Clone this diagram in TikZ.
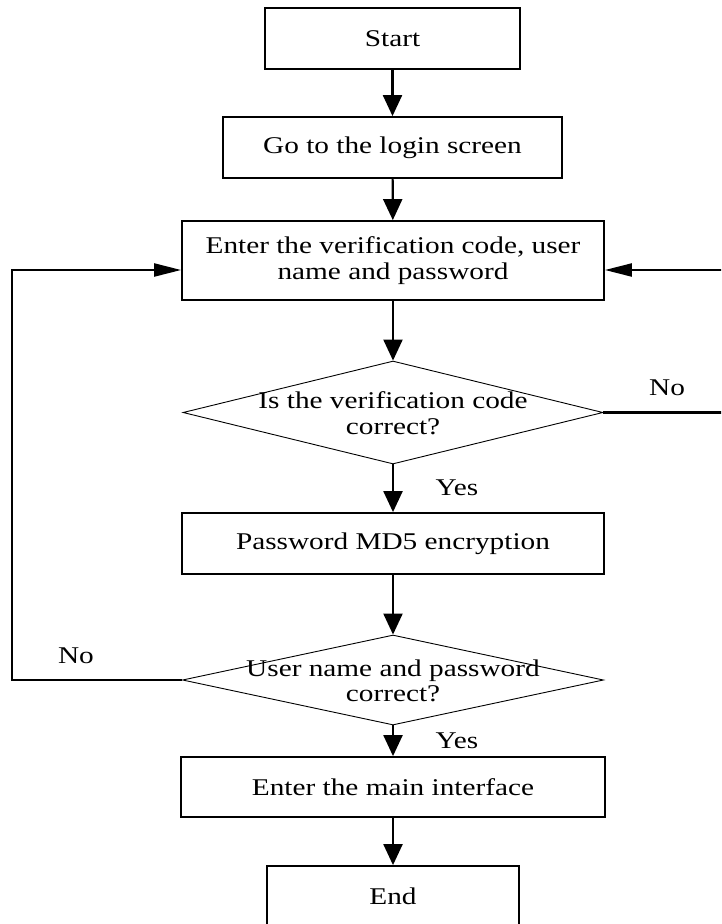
\documentclass[tikz,border=0pt]{standalone}
\usepackage{fontspec}
\setmainfont{Liberation Serif}[FakeStretch=1.22]
\usetikzlibrary{arrows.meta,shapes.geometric}

\tikzset{
  txt/.style={font=\fontsize{24}{25.5}\selectfont, align=center, inner sep=0pt},
  procbox/.style={draw, line width=1.8pt, rectangle, inner sep=0pt, txt},
  decision/.style={draw, line width=0.9pt, diamond, inner sep=0pt},
  varr/.style={line width=2.2pt, -{Triangle[length=21pt,width=19pt]}},
  harr/.style={line width=2.2pt, -{Triangle[length=27pt,width=13pt]}},
  branch/.style={txt, anchor=base}
}

\begin{document}
\begin{tikzpicture}[x=1pt,y=-1pt]
\useasboundingbox (0,0) rectangle (721,924);
\clip (0,0) rectangle (721,924);

% process boxes
\node[procbox, minimum width=255pt, minimum height=61pt] (start) at (392.5,38.5) {Start};
\node[procbox, minimum width=339pt, minimum height=61pt] (login) at (392.5,147.5) {Go to the login screen};
\node[procbox, minimum width=422pt, minimum height=79pt] (enter) at (393,260.5) {Enter the verification code, user\\name and password};
\node[procbox, minimum width=422pt, minimum height=61pt] (md5) at (393,543.5) {Password MD5 encryption};
\node[procbox, minimum width=424pt, minimum height=60pt] (main) at (393,787) {Enter the main interface};
\node[procbox, minimum width=252pt, minimum height=60pt] (end) at (393,896) {End};

% decisions
\node[decision, minimum width=420pt, minimum height=103pt] (d1) at (393,412.5) {};
\node[txt] (d1text) at (393,413) {Is the verification code\\correct?};
\node[decision, minimum width=421pt, minimum height=90pt] (d2) at (393,680) {};
\node[txt] (d2text) at (393,681) {User name and password\\correct?};

% main flow
\draw[varr] (start) -- (login);
\draw[varr] (login) -- (enter);
\draw[varr] (enter) -- (d1);
\draw[varr] (d1) -- (md5);
\draw[varr] (md5) -- (d2);
\draw[varr] (d2) -- (main);
\draw[varr] (main) -- (end);

% loops back to the input step
\draw[harr] (d2.west) -- ++(-170,0) |- ([yshift=-9.5pt]enter.west);
\draw[harr] (d1.east) -- ++(125,0) |- ([yshift=-9.5pt]enter.east);

% branch labels
\node[branch] (yes1) at (457,495) {Yes};
\node[branch] (no1) at (667,395) {No};
\node[branch] (no2) at (76,663) {No};
\node[branch] (yes2) at (457,748) {Yes};
\end{tikzpicture}
\end{document}
